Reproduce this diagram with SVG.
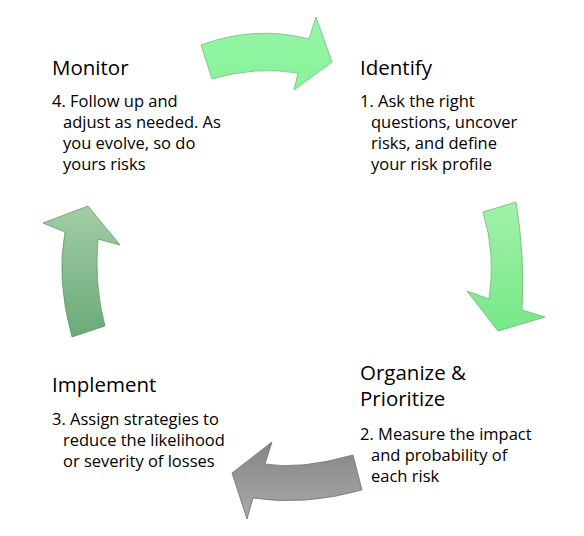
<svg xmlns="http://www.w3.org/2000/svg" width="584" height="536" viewBox="0 0 584 536">
<defs>
<linearGradient id="gTop" x1="0" y1="0" x2="0" y2="1"><stop offset="0" stop-color="#96f6a4"/><stop offset="1" stop-color="#88f29a"/></linearGradient>
<linearGradient id="gRight" x1="0" y1="0" x2="0" y2="1"><stop offset="0" stop-color="#a2f1aa"/><stop offset="1" stop-color="#76e886"/></linearGradient>
<linearGradient id="gBottom" x1="0" y1="0" x2="0" y2="1"><stop offset="0" stop-color="#858585"/><stop offset="1" stop-color="#a9a9a9"/></linearGradient>
<linearGradient id="gLeft" x1="0" y1="0" x2="0" y2="1"><stop offset="0" stop-color="#a3cda6"/><stop offset="1" stop-color="#6aaa78"/></linearGradient>
<style>
.title{font-family:"Open Sans","Liberation Sans",sans-serif;font-size:20.5px;fill:#000}
.body{font-family:"Open Sans","Liberation Sans",sans-serif;font-size:16.5px;fill:#000}
.arrow{stroke-width:0.8;stroke-linejoin:miter}
</style>
</defs>
<rect width="584" height="536" fill="#fff"/>
<g id="connectors">
<path id="arrow-top" class="arrow" fill="url(#gTop)" stroke="#6fbf7c" d="M201,45 Q255,25 309,39 L316,17 L332,62 L294,90 L298,73 Q255,66 212,79 Z"/>
<path id="arrow-right" class="arrow" fill="url(#gRight)" stroke="#6ab876" d="M483,212 L516,202 Q525,256 522,310 L545,317 L498,331 L467,291 L489,299 Q496,255 483,212 Z"/>
<path id="arrow-bottom" class="arrow" fill="url(#gBottom)" stroke="#707070" d="M353,455 Q300,470 265,464 L272,442 L232,473 L247,519 L253,498 Q305,506 362,490 Z"/>
<path id="arrow-left" class="arrow" fill="url(#gLeft)" stroke="#5f9a6a" d="M72,337 Q56,280 65,232 L43,223 L88,206 L120,245 L98,239 Q94,285 105,326 Z"/>
</g>
<g id="monitor">
<text class="title" x="52" y="75">Monitor</text>
<text class="body" x="52" y="107">4. Follow up and</text>
<text class="body" x="63" y="128">adjust as needed. As</text>
<text class="body" x="63" y="149">you evolve, so do</text>
<text class="body" x="63" y="170">yours risks</text>
</g>
<g id="identify">
<text class="title" x="360" y="75">Identify</text>
<text class="body" x="360" y="107">1. Ask the right</text>
<text class="body" x="371" y="128">questions, uncover</text>
<text class="body" x="371" y="149">risks, and define</text>
<text class="body" x="371" y="170">your risk profile</text>
</g>
<g id="organize">
<text class="title" x="360" y="380">Organize &amp;</text>
<text class="title" x="360" y="406">Prioritize</text>
<text class="body" x="360" y="440">2. Measure the impact</text>
<text class="body" x="371" y="461">and probability of</text>
<text class="body" x="371" y="482">each risk</text>
</g>
<g id="implement">
<text class="title" x="52" y="392">Implement</text>
<text class="body" x="52" y="425">3. Assign strategies to</text>
<text class="body" x="63" y="446">reduce the likelihood</text>
<text class="body" x="63" y="467">or severity of losses</text>
</g>
</svg>
